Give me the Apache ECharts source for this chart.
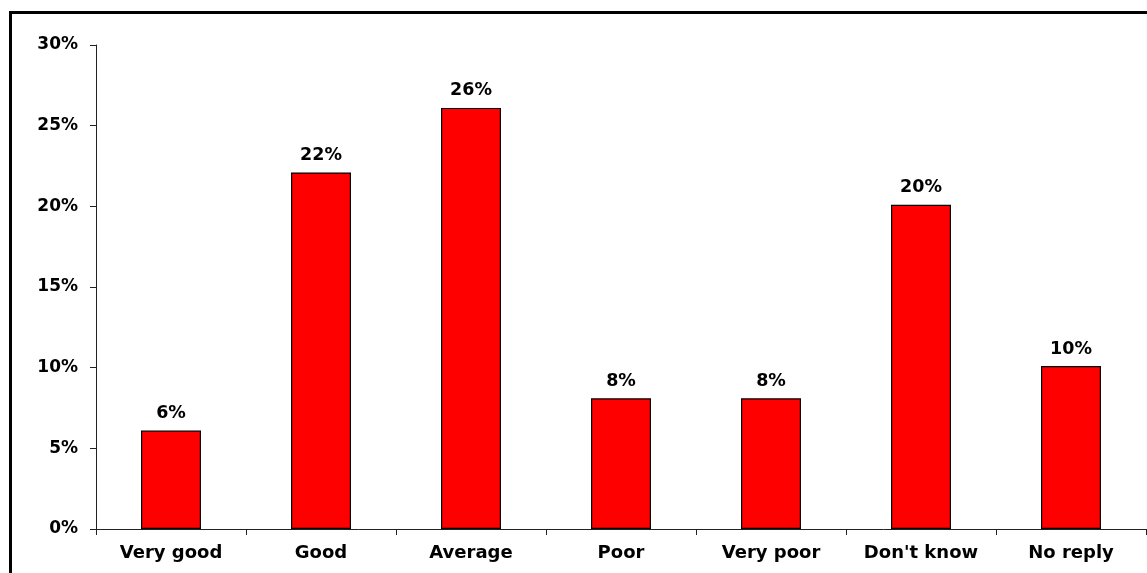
<!DOCTYPE html>
<html>
<head>
<meta charset="utf-8">
<script src="https://cdn.jsdelivr.net/npm/echarts@6/dist/echarts.min.js"></script>
<style>
html,body{margin:0;padding:0;background:#fff;}
#c{width:1147px;height:573px;}
</style>
</head>
<body>
<div id="c"></div>
<script>
const categories = ['Very good', 'Good', 'Average', 'Poor', 'Very poor', "Don't know", 'No reply'];
const values = [6.1, 22.1, 26.1, 8.1, 8.1, 20.1, 10.1];
const yTicks = [0, 5, 10, 15, 20, 25, 30];

const chart = echarts.init(document.getElementById('c'), null, {renderer: 'canvas'});
const font = '"DejaVu Sans", Verdana, sans-serif';
chart.setOption({
  animation: false,
  backgroundColor: '#ffffff',
  grid: {left: 96, top: 45, right: 1, bottom: 44, containLabel: false},
  xAxis: {
    type: 'category',
    data: categories,
    axisLine: {lineStyle: {color: '#222', width: 1}},
    axisTick: {show: true, length: 6, lineStyle: {color: '#222'}, alignWithLabel: false},
    axisLabel: {color: '#000', fontFamily: font, fontWeight: 'bold', fontSize: 18, margin: 15}
  },
  yAxis: {
    type: 'value',
    min: yTicks[0], max: yTicks[yTicks.length - 1], interval: 5,
    splitLine: {show: false},
    axisLine: {show: true, lineStyle: {color: '#222', width: 1}},
    axisTick: {show: true, length: 6, lineStyle: {color: '#222'}},
    axisLabel: {color: '#000', fontFamily: font, fontWeight: 'bold', fontSize: 17, margin: 18,
      formatter: v => v + '%'}
  },
  series: [{
    type: 'bar',
    data: values,
    barWidth: '40%',
    itemStyle: {color: '#ff0000', borderColor: '#000', borderWidth: 1.2},
    label: {show: true, position: 'top', distance: 8, color: '#000', fontFamily: font,
      fontWeight: 'bold', fontSize: 17.5, formatter: p => Math.round(p.value) + '%'}
  }],
  graphic: [{
    type: 'rect', silent: true,
    shape: {x: 10.5, y: 12.5, width: 1200, height: 700},
    style: {fill: null, stroke: '#000', lineWidth: 3}
  }]
});
</script>
</body>
</html>
